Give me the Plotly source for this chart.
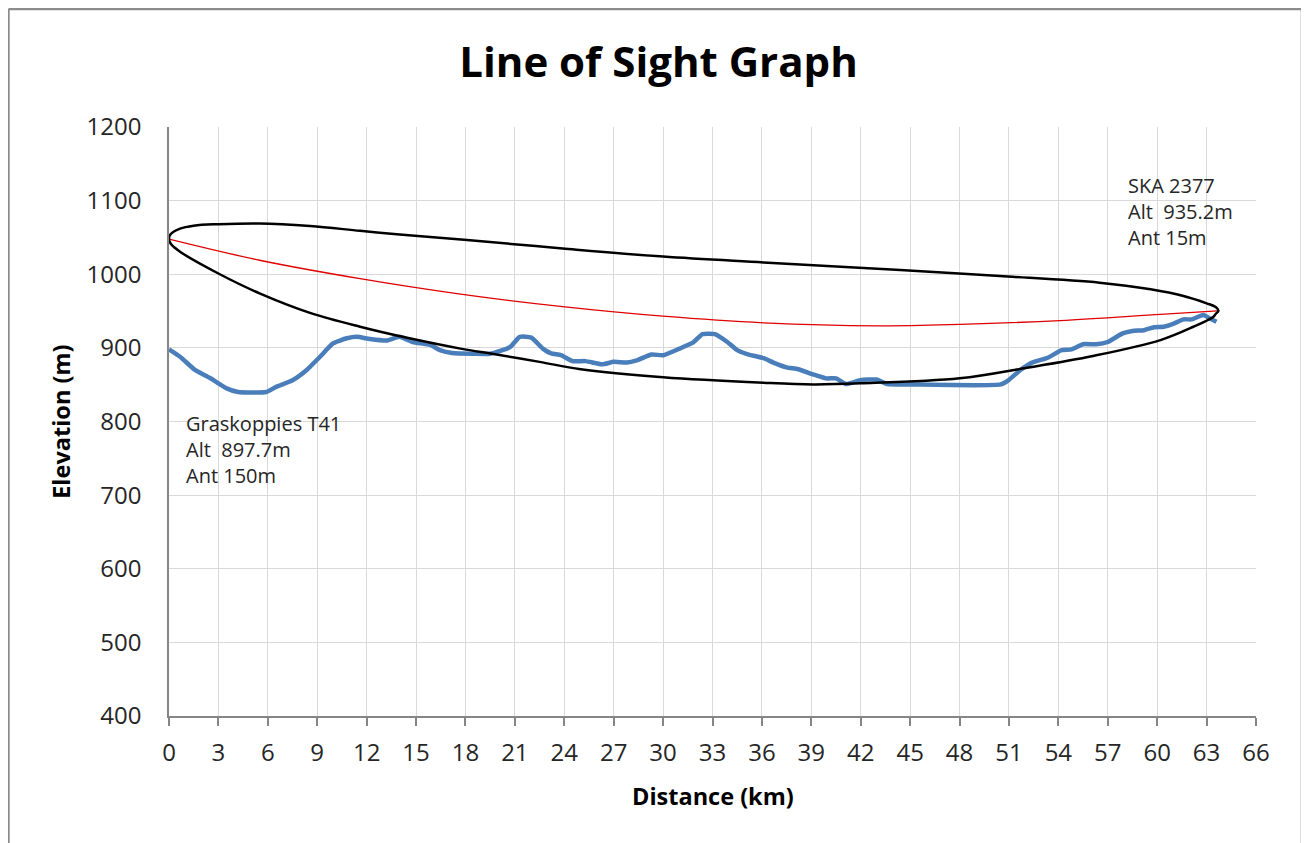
import plotly.graph_objects as go

# Terrain profile (distance km, elevation m)
terrain_km = [0, 0.67, 1.58, 2.5, 3.5, 4.2, 5.9, 6.5, 7.5, 8.36, 9.17, 9.96, 10.8, 11.4, 12.2,
              13.2, 14.0, 14.8, 15.85, 16.45, 17.2, 18.5, 19.5, 20.7, 21.3, 22.0, 22.7, 23.2,
              23.8, 24.5, 25.3, 26.3, 27.0, 27.8, 28.4, 29.3, 30.0, 31.0, 31.8, 32.4, 33.15,
              33.9, 34.5, 35.1, 36.1, 36.7, 37.5, 38.2, 39.1, 39.9, 40.5, 41.1, 41.96, 42.96,
              43.6, 45.0, 50.5, 50.96, 51.7, 52.4, 53.4, 54.2, 54.8, 55.5, 56.3, 57.0, 57.9,
              58.5, 59.2, 59.8, 60.4, 61.0, 61.6, 62.1, 62.8, 63.2, 63.6]
terrain_m = [898, 888, 870, 859, 845, 840, 840, 847, 856, 870, 888, 906, 913, 915, 912,
             910, 915, 908, 904, 897, 893, 892, 892, 901, 915, 914, 899, 892.5,
             890, 882, 882, 877.6, 881, 880, 883, 891, 890, 899, 907, 918.7, 918.7,
             908, 897, 891.6, 886, 880, 873.5, 871, 864, 858.6, 858.6, 851, 856, 857,
             851, 850.4, 850.4, 856, 870, 880, 887, 897, 898, 905, 904.8, 908, 919.7,
             923, 924, 928, 928.7, 933, 938.7, 938.7, 944.6, 940, 935.4]

# Line of sight (red)
los_km = [0, 5.5, 11.6, 17.7, 23.9, 30.0, 36.1, 43.0, 48.0, 54.1, 60.2, 63.65]
los_m = [1047.7, 1019, 994, 973, 956, 943, 934, 930, 932, 937, 945.5, 950.2]

# Fresnel ellipse (black) upper and lower boundaries
ell_upper_km = [0, 0.12, 0.67, 1.5, 3.0, 5.5, 8.56, 11.6, 14.0, 18.1, 23.9, 30.0, 36.1, 44.4,
                50.45, 56.5, 59.6, 61.6, 63.0, 63.55, 63.72]
ell_upper_m = [1048, 1055, 1062, 1066, 1068, 1069, 1065.5, 1059, 1054, 1046.5, 1035, 1024, 1016,
               1005.7, 997.5, 988.5, 979.5, 970.4, 960.5, 955.5, 950.5]
ell_lower_km = [0, 0.12, 0.67, 3.0, 5.5, 8.56, 11.6, 14.6, 17.7, 19.7, 22.5, 25.0, 30.0, 36.1,
                39.1, 42.0, 48.0, 52.1, 56.1, 60.2, 62.2, 63.4, 63.55, 63.72]
ell_lower_m = [1048, 1041, 1030.6, 1001, 974, 947.5, 928.7, 913, 899, 891.6, 881, 871, 860, 852.6,
               850.4, 851.8, 858.6, 873, 889, 910.6, 928.7, 942, 946, 950.5]

x_ticks = list(range(0, 67, 3))
y_ticks = list(range(400, 1201, 100))

site_a = "Graskoppies T41<br>Alt  897.7m<br>Ant 150m"
site_b = "SKA 2377<br>Alt  935.2m<br>Ant 15m"

ell_x = ell_upper_km + ell_lower_km[::-1][1:]
ell_y = ell_upper_m + ell_lower_m[::-1][1:]

FONT = "Open Sans"

fig = go.Figure()
fig.add_trace(go.Scatter(x=terrain_km, y=terrain_m, mode="lines",
                         line=dict(color="#4A7EBB", width=4.5, shape="spline", smoothing=0.5),
                         hoverinfo="skip", showlegend=False))
fig.add_trace(go.Scatter(x=los_km, y=los_m, mode="lines",
                         line=dict(color="#E00000", width=1.3, shape="spline"),
                         hoverinfo="skip", showlegend=False))
fig.add_trace(go.Scatter(x=ell_x, y=ell_y, mode="lines",
                         line=dict(color="#000000", width=2.5, shape="spline", smoothing=1.0),
                         hoverinfo="skip", showlegend=False))

fig.add_annotation(x=0.9, y=818, xref="x", yref="y", text=site_a, showarrow=False,
                   xanchor="left", yanchor="top", align="left",
                   font=dict(family=FONT, size=20, color="#262626"))
fig.add_annotation(x=58.1, y=1142, xref="x", yref="y", text=site_b, showarrow=False,
                   xanchor="left", yanchor="top", align="left",
                   font=dict(family=FONT, size=20, color="#262626"))

# axis titles
fig.add_annotation(x=0.5, y=-0.136, xref="paper", yref="paper", text="<b>Distance (km)</b>",
                   showarrow=False, xanchor="center", yanchor="middle",
                   font=dict(family=FONT, size=23.5, color="#000000"))
fig.add_annotation(x=-0.1, y=0.5, xref="paper", yref="paper", text="<b>Elevation (m)</b>",
                   showarrow=False, xanchor="center", yanchor="middle", textangle=-90,
                   font=dict(family=FONT, size=23.5, color="#000000"))

# outer frame (left, top, right edges)
frame = dict(color="#8C8C8C", width=2.5)
fx0, fx1, fy1, fy0 = -0.1477, 1.0423, 1.2003, -0.3
fig.add_shape(type="line", xref="paper", yref="paper", x0=fx0, x1=fx0, y0=fy0, y1=fy1, line=frame)
fig.add_shape(type="line", xref="paper", yref="paper", x0=fx0, x1=fx1, y0=fy1, y1=fy1, line=frame)
fig.add_shape(type="line", xref="paper", yref="paper", x0=fx1, x1=fx1, y0=fy0, y1=fy1, line=frame)

fig.update_layout(
    width=1301, height=835,
    margin=dict(l=161, r=53, t=119, b=127),
    paper_bgcolor="white", plot_bgcolor="white",
    title=dict(text="<b>Line of Sight Graph</b>", x=0.5, xref="container", xanchor="center",
               y=1 - 54 / 835, yref="container", yanchor="middle",
               font=dict(family=FONT, size=42, color="#000000")),
    font=dict(family=FONT, color="#262626"),
)
fig.update_xaxes(range=[0, 66], tickvals=x_ticks, ticktext=[str(v) for v in x_ticks],
                 showgrid=True, gridcolor="#D9D9D9", gridwidth=1.3,
                 showline=True, linecolor="#868686", linewidth=1.5,
                 ticks="outside", ticklen=8, tickcolor="#868686", tickwidth=1.5,
                 ticklabelstandoff=6,
                 tickfont=dict(family=FONT, size=24, color="#262626"), zeroline=False,
                 fixedrange=True)
fig.update_yaxes(range=[400, 1200], tickvals=y_ticks, ticktext=[str(v) for v in y_ticks],
                 showgrid=True, gridcolor="#D9D9D9", gridwidth=1.3,
                 showline=True, linecolor="#868686", linewidth=1.5,
                 ticks="", ticklabelstandoff=21,
                 tickfont=dict(family=FONT, size=24, color="#262626"), zeroline=False,
                 fixedrange=True)

fig.write_html("out.html")
